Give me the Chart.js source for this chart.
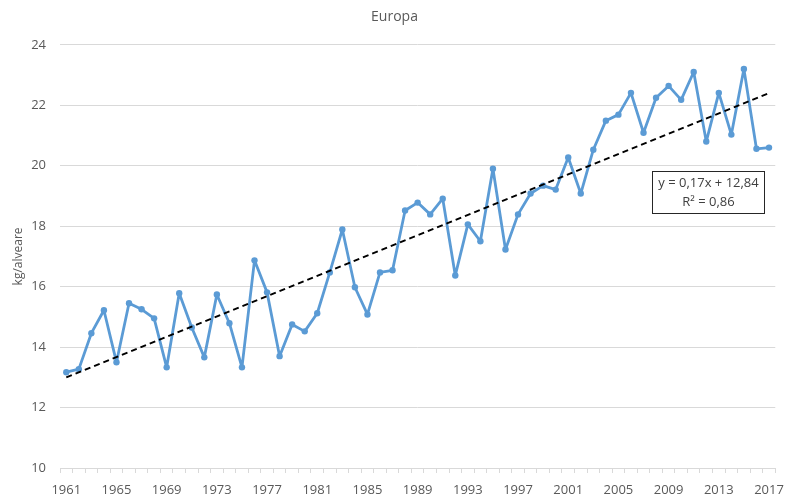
<!DOCTYPE html>
<html>
<head>
<meta charset="utf-8">
<script src="https://cdn.jsdelivr.net/npm/chart.js@4"></script>
<style>
  html, body { margin: 0; padding: 0; background: #fff; }
  #wrap { width: 793px; height: 499px; }
</style>
</head>
<body>
<div id="wrap"><canvas id="chart" width="793" height="499"></canvas></div>
<script>
// years 1961..2017
const years = [];
for (let y = 1961; y <= 2017; y++) years.push(String(y));

// kg per hive
const honeyYield = [
    13.17, 13.27, 14.46, 15.22, 13.50, 15.45, 15.25, 14.95, 13.33, 15.78,
    14.65, 13.66, 15.74, 14.79, 13.33, 16.87, 15.81, 13.70, 14.75, 14.52,
    15.12, 16.47, 17.89, 15.98, 15.08, 16.47, 16.54, 18.52, 18.78, 18.39,
    18.91, 16.37, 18.06, 17.50, 19.90, 17.23, 18.39, 19.08, 19.34, 19.21,
    20.27, 19.08, 20.53, 21.49, 21.69, 22.41, 21.09, 22.25, 22.64, 22.18,
    23.10, 20.80, 22.41, 21.03, 23.20, 20.56, 20.60
];

// linear trend line: only its two ends
const trendStart = 13.0, trendEnd = 22.4;
const trend = years.map((y, i) => i == 0 ? trendStart : (i == years.length - 1 ? trendEnd : null));

const equationLines = ["y = 0,17x + 12,84", "R\u00B2 = 0,86"];

const grey = "#595959";
const gridGrey = "#D9D9D9";

// white box with the regression equation
const equationBox = {
    id: "equationBox",
    afterDraw(chart) {
        const ctx = chart.ctx;
        const x = 652.5, y = 171.5, w = 112, h = 42;
        ctx.save();
        ctx.fillStyle = "#fff";
        ctx.fillRect(x, y, w, h);
        ctx.strokeStyle = "#262626";
        ctx.lineWidth = 1;
        ctx.strokeRect(x, y, w, h);
        ctx.fillStyle = "#404040";
        ctx.font = "13px 'Open Sans'";
        ctx.textAlign = "center";
        ctx.textBaseline = "middle";
        ctx.fillText(equationLines[0], x + w / 2, y + 12);
        ctx.fillText(equationLines[1], x + w / 2, y + 31);
        ctx.restore();
    }
};

new Chart(document.getElementById("chart").getContext("2d"), {
    type: "line",
    data: {
        labels: years,
        datasets: [{
            label: "Tendenza",
            data: trend,
            spanGaps: true,
            borderColor: "#000",
            borderWidth: 2,
            borderDash: [6, 4],
            pointRadius: 0,
            order: 0
        }, {
            label: "Europa",
            data: honeyYield,
            borderColor: "#5B9BD5",
            backgroundColor: "#5B9BD5",
            borderWidth: 2.8,
            borderJoinStyle: "round",
            pointRadius: 3.2,
            pointBorderWidth: 0,
            tension: 0,
            order: 1
        }]
    },
    options: {
        responsive: false,
        animation: false,
        layout: {
            padding: { left: 11, right: 15, top: 0, bottom: 0 }
        },
        plugins: {
            legend: { display: false },
            tooltip: { enabled: false },
            title: {
                display: true,
                text: "Europa",
                color: grey,
                font: { family: "'Open Sans'", size: 14, weight: "normal" },
                padding: { top: 9, bottom: 19 }
            }
        },
        scales: {
            x: {
                offset: true,
                afterFit: function(scale) { scale.height = 31; },
                grid: {
                    offset: true,
                    drawOnChartArea: false,
                    drawTicks: true,
                    tickLength: 5,
                    color: gridGrey
                },
                border: { color: gridGrey },
                ticks: {
                    autoSkip: false,
                    maxRotation: 0,
                    color: grey,
                    padding: 9,
                    font: { family: "'Open Sans'", size: 13 },
                    callback: function(val, i) {
                        return i % 4 == 0 ? years[i] : "";
                    }
                }
            },
            y: {
                min: 10,
                max: 24,
                afterFit: function(scale) { scale.width = 49; },
                grid: { color: gridGrey, drawTicks: false },
                border: { display: false },
                ticks: {
                    stepSize: 2,
                    color: grey,
                    padding: 14,
                    font: { family: "'Open Sans'", size: 13 }
                },
                title: {
                    display: true,
                    text: "kg/alveare",
                    color: grey,
                    font: { family: "'Open Sans'", size: 12 },
                    padding: { top: 0, bottom: 0 }
                }
            }
        }
    },
    plugins: [equationBox]
});
</script>
</body>
</html>
